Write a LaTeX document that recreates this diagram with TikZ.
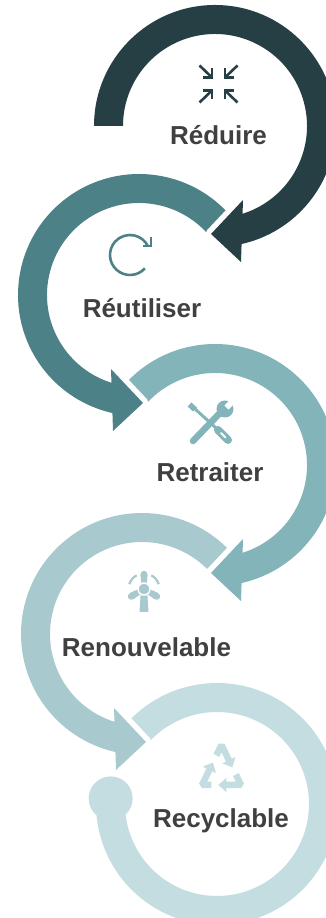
\documentclass[tikz,border=0pt]{standalone}
\usepackage{fontspec}
\setmainfont{Liberation Sans}
\usetikzlibrary{arrows.meta,calc}
\definecolor{cA}{HTML}{263F44}
\definecolor{cB}{HTML}{4C8187}
\definecolor{cC}{HTML}{82B4BA}
\definecolor{cD}{HTML}{A8CACF}
\definecolor{cE}{HTML}{C4DDE0}
\definecolor{txt}{HTML}{404040}
\begin{document}
\begin{tikzpicture}[x=1pt,y=1pt,
  lbl/.style={font=\fontsize{26}{30}\selectfont\bfseries, text=txt, anchor=base, inner sep=0pt},
  halo/.style={draw=white, line width=11pt, line join=round},
  icn/.style={line width=2.6pt, line cap=butt, line join=miter}]
\useasboundingbox (0,0) rectangle (326,918);
\fill[white] (0,0) rectangle (326,918);

% ring 5
\begin{scope}[shift={(217,114)}]
\fill[cE] (138:121) arc[start angle=138,end angle=-183,radius=121] -- (-183:92) arc[start angle=-183,end angle=138,radius=92] -- cycle;
\fill[cE] (177:106.5) circle (22);
\end{scope}
% ring 4
\begin{scope}[shift={(142,284)}]
\path[halo] (-28,-74) -- (-26,-136) -- (4,-108) -- cycle;
\fill[cD] (42:121) arc[start angle=42,end angle=258,radius=121] -- (258:92) arc[start angle=258,end angle=42,radius=92] -- cycle;
\fill[cD] (-28,-74) -- (-26,-136) -- (4,-108) -- cycle;
\end{scope}
% ring 3
\begin{scope}[shift={(215,453)}]
\path[halo] (28,-74) -- (26,-136) -- (-4,-108) -- cycle;
\fill[cC] (138:121) arc[start angle=138,end angle=-78,radius=121] -- (-78:92) arc[start angle=-78,end angle=138,radius=92] -- cycle;
\fill[cC] (28,-74) -- (26,-136) -- (-4,-108) -- cycle;
\end{scope}
% ring 2
\begin{scope}[shift={(139,623)}]
\path[halo] (-28,-74) -- (-26,-136) -- (4,-108) -- cycle;
\fill[cB] (42:121) arc[start angle=42,end angle=258,radius=121] -- (258:92) arc[start angle=258,end angle=42,radius=92] -- cycle;
\fill[cB] (-28,-74) -- (-26,-136) -- (4,-108) -- cycle;
\end{scope}
% ring 1
\begin{scope}[shift={(215,792)}]
\path[halo] (28,-74) -- (26,-136) -- (-4,-108) -- cycle;
\fill[cA] (180:121) arc[start angle=180,end angle=-78,radius=121] -- (-78:92) arc[start angle=-78,end angle=180,radius=92] -- cycle;
\fill[cA] (28,-74) -- (26,-136) -- (-4,-108) -- cycle;
\end{scope}

% labels
\node[lbl] (t1) at (218.5,773) {Réduire};
\node[lbl] (t2) at (142,600) {Réutiliser};
\node[lbl] (t3) at (210,436) {Retraiter};
\node[lbl] (t4) at (146.5,261) {Renouvelable};
\node[lbl] (t5) at (221,90) {Recyclable};

% icon 1: compress arrows
\begin{scope}[shift={(218.5,834)}]
\foreach \sx/\sy in {-1/1,1/1,-1/-1,1/-1}{
  \draw[cA, icn] (19*\sx,18.5*\sy) -- (6.5*\sx,6.5*\sy);
  \draw[cA, icn] (15.5*\sx,6.5*\sy) -- (6.5*\sx,6.5*\sy) -- (6.5*\sx,15.5*\sy);
}
\end{scope}

% icon 2: rotate arrow
\draw[cB, icn] (130,663) ++(-42:20) arc[start angle=-42,end angle=-334,radius=20];
\draw[cB, icn] (143,672) -- (151,672) -- (151,681);

% icon 3: tools
\draw[cC, line width=6.5pt, line cap=round] (193,477) -- (219,504);
\fill[cC] (225,509) circle (8.5);
\begin{scope}[shift={(225,509)}, rotate=45]
\fill[white] (2,-3) rectangle (12,3);
\end{scope}
\draw[cC, line width=3pt] (194,510) -- (216,490);
\draw[cC, line width=5.5pt] (189.5,513.5) -- (195,508.5);
\draw[cC, line width=8pt, line cap=round] (218,488) -- (228,478);
\draw[white, line width=1.8pt, line cap=round] (221,485) -- (225.5,480.5);

% icon 4: wind turbine
\begin{scope}[shift={(144,329)}]
\fill[cD] (-3,0) -- (3,0) -- (4.5,-23) -- (-4.5,-23) -- cycle;
\foreach \r in {0,120,240}{
  \fill[cD, rotate=\r] (-2.5,3) -- (-3.6,14) .. controls (-3.6,19.5) and (3.6,19.5) .. (3.6,14) -- (2.5,3) -- cycle;
}
\draw[cD, line width=2.2pt] (118:15.5) arc[start angle=118,end angle=162,radius=15.5];
\draw[cD, line width=2.2pt] (18:15.5) arc[start angle=18,end angle=62,radius=15.5];
\fill[cD, draw=white, line width=1.5pt] (0,0) circle (6);
\end{scope}

% icon 5: recycle
\coordinate (v1) at (221.5,173);
\coordinate (v2) at (202,133);
\coordinate (v3) at (241,133);
\begin{scope}[cE, line width=6.5pt, line join=bevel, -{Triangle[length=8pt,width=14pt]}]
\draw ($(v2)!0.74!(v1)$) -- (v1) -- ($(v1)!0.56!(v3)$);
\draw ($(v1)!0.74!(v3)$) -- (v3) -- ($(v3)!0.58!(v2)$);
\draw ($(v3)!0.76!(v2)$) -- (v2) -- ($(v2)!0.56!(v1)$);
\end{scope}
\end{tikzpicture}
\end{document}
